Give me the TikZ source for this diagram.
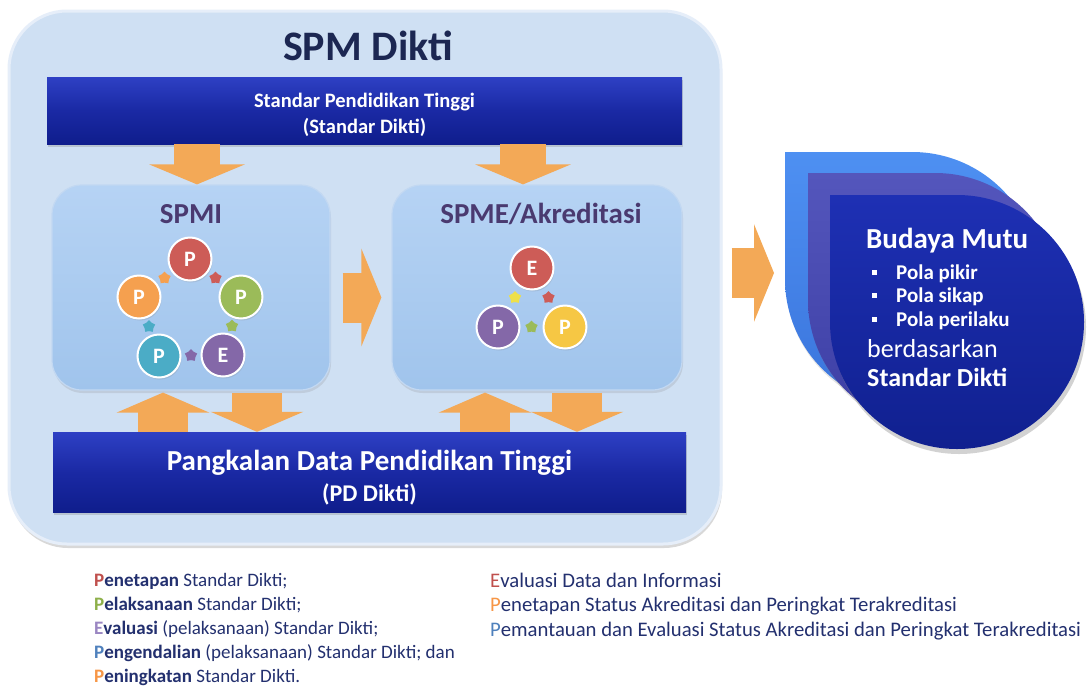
\documentclass[tikz,border=0pt]{standalone}
\usepackage{fontspec}
\setmainfont{Carlito}
\usetikzlibrary{shapes.geometric,shadows,arrows.meta,calc}
\definecolor{outerfill}{HTML}{CFE0F3}
\definecolor{outerline}{HTML}{E6EEF9}
\definecolor{innertop}{HTML}{B6D3F4}
\definecolor{innerbot}{HTML}{A0C4EC}
\definecolor{innerline}{HTML}{C2D8F2}
\definecolor{bartop}{HTML}{2E40C4}
\definecolor{barmid}{HTML}{1A29A4}
\definecolor{barbot}{HTML}{0F1D8C}
\definecolor{arrowc}{HTML}{F3A957}
\definecolor{titlec}{HTML}{1C2752}
\definecolor{labc}{HTML}{4A3A70}
\definecolor{cred}{HTML}{CD5C57}
\definecolor{cgreen}{HTML}{9BBB59}
\definecolor{cpurple}{HTML}{8468A8}
\definecolor{cteal}{HTML}{4BACC6}
\definecolor{corange}{HTML}{F5A04F}
\definecolor{cyellow}{HTML}{F6C744}
\definecolor{dyellow}{HTML}{EEE04A}
\definecolor{legc}{HTML}{23306F}
\definecolor{lred}{HTML}{C0504D}
\definecolor{lgreen}{HTML}{8EB04A}
\definecolor{lpurple}{HTML}{9A86C2}
\definecolor{lblue}{HTML}{4F81BD}
\definecolor{lorange}{HTML}{F79646}
\definecolor{tdbacktop}{HTML}{4E90F2}
\definecolor{tdbackbot}{HTML}{3A74DC}
\definecolor{tdmidtop}{HTML}{5456BC}
\definecolor{tdmidbot}{HTML}{3C3EA4}
\definecolor{tdfronttop}{HTML}{1E30B4}
\definecolor{tdfrontbot}{HTML}{10208F}
\begin{document}
\begin{tikzpicture}[x=1pt,y=-1pt,
  outerbox/.style={draw=outerline, line width=3pt, fill=outerfill, rounded corners=58pt,
    minimum width=712pt, minimum height=533pt, inner sep=0pt,
    drop shadow={opacity=0.3, shadow xshift=1pt, shadow yshift=-4pt}},
  innerbox/.style={draw=innerline, line width=1.2pt, top color=innertop, bottom color=innerbot,
    rounded corners=30pt, minimum height=205pt, inner sep=0pt,
    drop shadow={opacity=0.2, shadow xshift=1pt, shadow yshift=-3pt}},
  barbox/.style={top color=bartop, bottom color=barbot, middle color=barmid, inner sep=0pt,
    drop shadow={opacity=0.3, shadow xshift=1pt, shadow yshift=-3pt}},
  bartxt/.style={text=white, font=\bfseries\fontsize{20.5}{24}\selectfont, anchor=base, inner sep=0pt},
  barrowA/.style={line width=46pt, draw=arrowc, -{Triangle[length=20pt,width=95pt]}},
  barrowB/.style={line width=50pt, draw=arrowc, -{Triangle[length=20pt,width=92pt]}},
  harrow/.style={line width=50pt, draw=arrowc, -{Triangle[length=20pt,width=97pt]}},
  pc/.style={circle, draw=white, line width=2pt, minimum size=43pt, inner sep=0pt,
    text=white, font=\bfseries\fontsize{22}{22}\selectfont,
    drop shadow={opacity=0.2, shadow xshift=1pt, shadow yshift=-2pt}},
  dot/.style={star, star points=5, star point ratio=1.4, minimum size=13pt, inner sep=0pt},
  lab/.style={text=labc, font=\bfseries\fontsize{29}{32}\selectfont, anchor=base, inner sep=0pt},
  bm/.style={text=white, anchor=base west, inner sep=0pt},
  leg/.style={text=legc, anchor=base west, inner sep=0pt, font=\fontsize{19}{22}\selectfont},
  legr/.style={text=legc, anchor=base west, inner sep=0pt, font=\fontsize{20.7}{24}\selectfont}
]
\useasboundingbox (0,0) rectangle (1090,686);
\fill[white] (0,0) rectangle (1090,686);

% outer container
\node[outerbox] (outer) at (365,277.5) {};
\node[text=titlec, font=\bfseries\fontsize{42}{46}\selectfont, anchor=base, inner sep=0pt] (title) at (368,60) {SPM Dikti};

% bars
\node[barbox, minimum width=635pt, minimum height=67pt] (topbar) at (364.5,110.5) {};
\node[bartxt] (tb1) at (364.5,107) {Standar Pendidikan Tinggi};
\node[bartxt] (tb2) at (364.5,133) {(Standar Dikti)};

\node[barbox, minimum width=633pt, minimum height=80pt] (botbar) at (369.5,472) {};
\node[bartxt, font=\bfseries\fontsize{29}{32}\selectfont] (bb1) at (369.5,470) {Pangkalan Data Pendidikan Tinggi};
\node[bartxt, font=\bfseries\fontsize{24}{28}\selectfont] (bb2) at (369.5,501) {(PD Dikti)};

% inner boxes
\node[innerbox, minimum width=278pt] (spmi) at (191,287.5) {};
\node[innerbox, minimum width=290pt] (spme) at (537,287.5) {};
\node[lab] (spmil) at (191,223) {SPMI};
\node[lab] (spmel) at (541,223) {SPME/Akreditasi};

% SPMI cycle
\node[pc, fill=cred] (m1) at (190,259) {P};
\node[pc, fill=cgreen] (m2) at (241,297) {P};
\node[pc, fill=cpurple] (m3) at (223,355) {E};
\node[pc, fill=cteal] (m4) at (159,356) {P};
\node[pc, fill=corange] (m5) at (139,297) {P};
\node[dot, fill=cred] (d1) at ($(m1)!0.5!(m2)$) {};
\node[dot, fill=cgreen] (d2) at ($(m2)!0.5!(m3)$) {};
\node[dot, fill=cpurple] (d3) at ($(m3)!0.5!(m4)$) {};
\node[dot, fill=cteal] (d4) at ($(m4)!0.5!(m5)$) {};
\node[dot, fill=corange] (d5) at ($(m5)!0.5!(m1)$) {};

% SPME cycle
\node[pc, fill=cred] (e1) at (532,268) {E};
\node[pc, fill=cyellow] (e2) at (565,327) {P};
\node[pc, fill=cpurple] (e3) at (498,327) {P};
\node[dot, fill=cred] (f1) at ($(e1)!0.5!(e2)$) {};
\node[dot, fill=cgreen] (f2) at ($(e2)!0.5!(e3)$) {};
\node[dot, fill=dyellow] (f3) at ($(e3)!0.5!(e1)$) {};

% block arrows
\coordinate (t1) at ([xshift=-167.5pt]topbar.south);
\coordinate (t2) at ([xshift=158.5pt]topbar.south);
\draw[barrowA] (t1) -- (t1 |- spmi.north);
\draw[barrowA] (t2) -- (t2 |- spme.north);

\coordinate (b1) at ([xshift=-206.5pt]botbar.north);
\coordinate (b2) at ([xshift=-112.5pt]botbar.north);
\coordinate (b3) at ([xshift=115.5pt]botbar.north);
\coordinate (b4) at ([xshift=207.5pt]botbar.north);
\draw[barrowB] (b1) -- ([yshift=-2pt]b1 |- spmi.south);
\draw[barrowB] ([yshift=-2pt]b2 |- spmi.south) -- (b2);
\draw[barrowB] (b3) -- ([yshift=-2pt]b3 |- spme.south);
\draw[barrowB] ([yshift=-2pt]b4 |- spme.south) -- (b4);

\draw[harrow, shorten <=12pt, shorten >=10pt] ([yshift=-10pt]spmi.east) -- ([yshift=-10pt]spmi.east -| spme.west);

% Budaya Mutu teardrops
\coordinate (bmtip) at (774,273);
\draw[harrow, shorten <=9pt] ([yshift=4.5pt]outer.east) -- (bmtip);

\path[top color=tdbacktop, bottom color=tdbackbot, drop shadow={opacity=0.2, shadow xshift=1pt, shadow yshift=-3pt}]
  (785,152) -- ++(127,0) arc[start angle=90, end angle=-180, radius=127pt] -- cycle;
\path[top color=tdmidtop, bottom color=tdmidbot, drop shadow={opacity=0.25, shadow xshift=1pt, shadow yshift=-3pt}]
  (808,173) -- ++(127,0) arc[start angle=90, end angle=-180, radius=127pt] -- cycle;
\path[top color=tdfronttop, bottom color=tdfrontbot, drop shadow={opacity=0.35, shadow xshift=2pt, shadow yshift=-5pt}]
  (830,195) -- ++(127,0) arc[start angle=90, end angle=-180, radius=127pt] -- cycle;

\node[bm, font=\bfseries\fontsize{29}{32}\selectfont] (bmt) at (866,248) {Budaya Mutu};
\node[bm, font=\bfseries\fontsize{21}{24}\selectfont] (bp1) at (872,279) {\rule[4.5pt]{5pt}{5pt}\hspace{19pt}Pola pikir};
\node[bm, font=\bfseries\fontsize{21}{24}\selectfont] (bp2) at (872,302.5) {\rule[4.5pt]{5pt}{5pt}\hspace{19pt}Pola sikap};
\node[bm, font=\bfseries\fontsize{21}{24}\selectfont] (bp3) at (872,326) {\rule[4.5pt]{5pt}{5pt}\hspace{19pt}Pola perilaku};
\node[bm, font=\fontsize{26}{30}\selectfont] (bd1) at (867,357) {berdasarkan};
\node[bm, font=\bfseries\fontsize{26}{30}\selectfont] (bd2) at (867,386) {Standar Dikti};

% legend
\node[leg] (l1) at (94,586) {\textbf{\textcolor{lred}{P}enetapan} Standar Dikti;};
\node[leg] (l2) at (94,610) {\textbf{\textcolor{lgreen}{P}elaksanaan} Standar Dikti;};
\node[leg] (l3) at (94,634) {\textbf{\textcolor{lpurple}{E}valuasi} (pelaksanaan) Standar Dikti;};
\node[leg] (l4) at (94,658) {\textbf{\textcolor{lblue}{P}engendalian} (pelaksanaan) Standar Dikti; dan};
\node[leg] (l5) at (94,682) {\textbf{\textcolor{lorange}{P}eningkatan} Standar Dikti.};

\node[legr] (r1) at (490,587) {\textcolor{lred}{E}valuasi Data dan Informasi};
\node[legr] (r2) at (490,611.5) {\textcolor{lorange}{P}enetapan Status Akreditasi dan Peringkat Terakreditasi};
\node[legr] (r3) at (490,636) {\textcolor{lblue}{P}emantauan dan Evaluasi Status Akreditasi dan Peringkat Terakreditasi};
\end{tikzpicture}
\end{document}
